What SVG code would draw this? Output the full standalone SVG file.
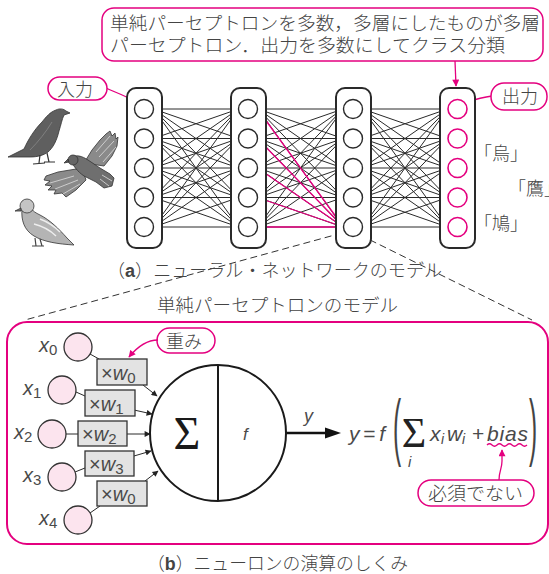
<svg xmlns="http://www.w3.org/2000/svg" xmlns:xlink="http://www.w3.org/1999/xlink" width="549" height="574" viewBox="0 0 549 574">
  <style>
    .jp { font-family: "Noto Sans CJK JP", "Noto Sans", sans-serif; fill: #444; font-size: 18px; font-weight: 300; }
    .lat { font-family: "Liberation Sans", Arial, sans-serif; fill: #4a4a4a; }
    .it { font-style: italic; }
    .box { fill: #fff; stroke: #2a2a2a; stroke-width: 2; }
    .node { fill: #fff; stroke: #2a2a2a; stroke-width: 1.4; }
    .out { fill: #fff; stroke: #e4007f; stroke-width: 1.6; }
    .pill { fill: #fff; stroke: #e4007f; stroke-width: 1.5; }
    .pinkln { fill: none; stroke: #e4007f; stroke-width: 1.3; }
    .wire { fill: none; stroke: #2a2a2a; stroke-width: 1; }
    .inp { fill: #fce4ee; stroke: #333; stroke-width: 1.3; }
    .wbox { fill: #e3e3e3; stroke: #333; stroke-width: 1.3; }
    .dash { fill: none; stroke: #333; stroke-width: 1; stroke-dasharray: 7 4; }
  </style>
  <defs>
    <marker id="ap" viewBox="0 0 10 10" refX="9" refY="5" markerWidth="9" markerHeight="7" orient="auto" markerUnits="userSpaceOnUse">
      <path d="M0,0 L10,5 L0,10 Z" fill="#e4007f"/>
    </marker>
    <marker id="ab" viewBox="0 0 10 10" refX="9" refY="5" markerWidth="8" markerHeight="6" orient="auto" markerUnits="userSpaceOnUse">
      <path d="M0,0 L10,5 L0,10 Z" fill="#222"/>
    </marker>
    <!-- full 5x5 fan between two adjacent layers, 85px wide -->
    <path id="fan" class="wire" d="
      M0 109L85 109M0 109L85 138.5M0 109L85 168M0 109L85 197.5M0 109L85 227
      M0 138.5L85 109M0 138.5L85 138.5M0 138.5L85 168M0 138.5L85 197.5M0 138.5L85 227
      M0 168L85 109M0 168L85 138.5M0 168L85 168M0 168L85 197.5M0 168L85 227
      M0 197.5L85 109M0 197.5L85 138.5M0 197.5L85 168M0 197.5L85 197.5M0 197.5L85 227
      M0 227L85 109M0 227L85 138.5M0 227L85 168M0 227L85 197.5M0 227L85 227"/>
  </defs>

  <rect width="549" height="574" fill="#fff"/>

  <!-- explanatory callout at the top -->
  <g id="note-top">
    <rect x="102" y="8" width="441" height="53" rx="12" class="pill"/>
    <text class="jp" x="110" y="30" textLength="430" lengthAdjust="spacingAndGlyphs">単純パーセプトロンを多数，多層にしたものが多層</text>
    <text class="jp" x="110" y="52" textLength="395" lengthAdjust="spacingAndGlyphs">パーセプトロン．出力を多数にしてクラス分類</text>
  </g>

  <!-- birds -->
  <g id="birds" stroke="#333" stroke-width="0.8" stroke-linejoin="round">
    <g id="crow">
      <path d="M8,157 L18,152 L24,149 C28,140 34,130 42,122 C46,117 50,112 56,110 C60,108 64,109 66,111 L70,113 L64,115 C62,119 61,125 59,131 C57,140 53,148 48,152 C44,155 38,157 30,157 L20,157 Z" fill="#5f5f5f"/>
      <path d="M30,150 C38,142 46,132 52,122" fill="none" stroke="#888"/>
      <path d="M40,155 L39,163 M47,153 L49,162 M33,164 L45,163 M44,162 L55,162" fill="none" stroke="#333" stroke-width="1.2"/>
    </g>
    <g id="hawk">
      <path d="M84,163 L92,150 L100,140 L106,134 L110,131 L112,136 L115,133 L116,139 L118,137 L117,146 L112,156 L104,166 Z" fill="#8a8a8a"/>
      <path d="M96,152 L110,136 M99,157 L114,141 M103,162 L116,147" fill="none" stroke="#ddd"/>
      <path d="M82,168 L70,170 L58,172 L46,176 L44,180 L50,181 L45,185 L52,186 L48,190 L56,190 L54,194 L62,193 L66,197 L76,190 L86,180 Z" fill="#8a8a8a"/>
      <path d="M50,183 L74,176 M55,189 L78,180 M63,194 L80,184" fill="none" stroke="#ddd"/>
      <path d="M70,158 C76,154 82,156 88,160 L100,168 L110,174 L114,178 L112,186 L104,188 L96,182 L84,176 C78,172 72,165 70,158 Z" fill="#6f6f6f"/>
      <path d="M102,175 L112,181 M100,179 L109,186" fill="none" stroke="#ddd"/>
      <circle cx="73" cy="160" r="5" fill="#666"/>
      <path d="M68,159 L64,163 L69,162 Z" fill="#555"/>
    </g>
    <g id="pigeon">
      <path d="M22,209 C21,220 24,230 34,236 C44,242 58,244 74,245 L67,238 C59,229 50,220 40,215 C34,212 31,210 31,206 Z" fill="#b4b4b4"/>
      <path d="M34,224 C42,226 50,230 56,236 M40,219 C48,222 54,226 60,232" fill="none" stroke="#eee" stroke-width="1.4"/>
      <circle cx="27" cy="206" r="7" fill="#c4c4c4"/>
      <path d="M21,208 L15,211 L21,211 Z" fill="#777"/>
      <path d="M35,238 L36,246 M40,239 L42,246 M32,246 L44,246" fill="none" stroke="#444" stroke-width="1.2"/>
    </g>
  </g>

  <!-- network connections -->
  <g id="connectors">
    <use xlink:href="#fan" transform="translate(153.5,0)"/>
    <use xlink:href="#fan" transform="translate(258,0)"/>
    <use xlink:href="#fan" transform="translate(362.5,0)"/>
    <path class="pinkln" stroke-width="1.1" d="M257.5 109L343.5 227M257.5 138.5L343.5 227M257.5 168L343.5 227M257.5 197.5L343.5 227M257.5 227L343.5 227"/>
    <path class="pinkln" d="M455,61 L456,86" marker-end="url(#ap)"/>
    <path class="pinkln" d="M106,88 C114,92 122,94 134,101" marker-end="url(#ap)"/>
    <path class="pinkln" d="M492,96 C484,97 476,99 467,102" marker-end="url(#ap)"/>
    <path class="dash" d="M342,233 L25,320"/>
    <path class="dash" d="M360,235 L532,320"/>
  </g>

  <g id="layer-in">
    <rect x="127" y="88" width="35" height="160" rx="9" class="box"/>
    <circle cx="144" cy="109" r="9.5" class="node"/>
    <circle cx="144" cy="138.5" r="9.5" class="node"/>
    <circle cx="144" cy="168" r="9.5" class="node"/>
    <circle cx="144" cy="197.5" r="9.5" class="node"/>
    <circle cx="144" cy="227" r="9.5" class="node"/>
  </g>
  <g id="layer-h1">
    <rect x="231" y="88" width="35" height="160" rx="9" class="box"/>
    <circle cx="248" cy="109" r="9.5" class="node"/>
    <circle cx="248" cy="138.5" r="9.5" class="node"/>
    <circle cx="248" cy="168" r="9.5" class="node"/>
    <circle cx="248" cy="197.5" r="9.5" class="node"/>
    <circle cx="248" cy="227" r="9.5" class="node"/>
  </g>
  <g id="layer-h2">
    <rect x="336" y="88" width="35" height="160" rx="9" class="box"/>
    <circle cx="353" cy="109" r="9.5" class="node"/>
    <circle cx="353" cy="138.5" r="9.5" class="node"/>
    <circle cx="353" cy="168" r="9.5" class="node"/>
    <circle cx="353" cy="197.5" r="9.5" class="node"/>
    <circle cx="353" cy="227" r="9.5" class="node"/>
  </g>
  <g id="layer-out">
    <rect x="440" y="88" width="35" height="160" rx="9" class="box"/>
    <circle cx="457.5" cy="109" r="9.5" class="out"/>
    <circle cx="457.5" cy="138.5" r="9.5" class="out"/>
    <circle cx="457.5" cy="168" r="9.5" class="out"/>
    <circle cx="457.5" cy="197.5" r="9.5" class="out"/>
    <circle cx="457.5" cy="227" r="9.5" class="out"/>
  </g>

  <g id="label-in">
    <rect x="48" y="77" width="59" height="23" rx="11.5" class="pill"/>
    <text class="jp" x="57" y="96" font-size="17.5">入力</text>
  </g>
  <g id="label-out">
    <rect x="491" y="83" width="56" height="27" rx="13" class="pill"/>
    <text class="jp" x="502" y="103" font-size="17.5">出力</text>
  </g>
  <g id="classes">
    <text class="jp" x="474" y="160" font-size="17">「烏」</text>
    <text class="jp" x="508" y="195" font-size="17">「鷹」</text>
    <text class="jp" x="474" y="230" font-size="17">「鳩」</text>
  </g>

  <text class="jp" x="107" y="277" textLength="335" lengthAdjust="spacingAndGlyphs">（<tspan font-weight="bold" font-family="Liberation Sans, sans-serif">a</tspan>）ニューラル・ネットワークのモデル</text>

  <!-- single neuron model -->
  <text class="jp" x="157" y="312" textLength="241" lengthAdjust="spacingAndGlyphs">単純パーセプトロンのモデル</text>
  <rect id="neuron-frame" x="7" y="322" width="541" height="222" rx="20" fill="none" stroke="#e4007f" stroke-width="2"/>

  <g id="neuron-wires">
    <path class="wire" stroke="#333" d="M90,354 L99,359 M76,392 L85,396 M66,434 L78,434 M75,472 L85,468 M90,513 L100,506"/>
    <path class="wire" stroke="#333" d="M143,385 L157,396" marker-end="url(#ab)"/>
    <path class="wire" stroke="#333" d="M134,410 L152,414" marker-end="url(#ab)"/>
    <path class="wire" stroke="#333" d="M127,434 L150,434" marker-end="url(#ab)"/>
    <path class="wire" stroke="#333" d="M134,456 L151,451" marker-end="url(#ab)"/>
    <path class="wire" stroke="#333" d="M145,481 L158,471" marker-end="url(#ab)"/>
    <path d="M286,433 L327,433" stroke="#111" stroke-width="2.6"/>
    <path d="M325,427.5 L341,433 L325,438.5 Z" fill="#111"/>
  </g>

  <g id="x0"><circle cx="78" cy="347" r="14" class="inp"/><text class="lat" x="39" y="352" font-size="20"><tspan class="it">x</tspan><tspan font-size="15" dy="3">0</tspan></text></g>
  <g id="x1"><circle cx="62" cy="390" r="14" class="inp"/><text class="lat" x="23" y="395" font-size="20"><tspan class="it">x</tspan><tspan font-size="15" dy="3">1</tspan></text></g>
  <g id="x2"><circle cx="52" cy="434" r="14" class="inp"/><text class="lat" x="14" y="439" font-size="20"><tspan class="it">x</tspan><tspan font-size="15" dy="3">2</tspan></text></g>
  <g id="x3"><circle cx="62" cy="477" r="14" class="inp"/><text class="lat" x="23" y="482" font-size="20"><tspan class="it">x</tspan><tspan font-size="15" dy="3">3</tspan></text></g>
  <g id="x4"><circle cx="78" cy="520" r="14" class="inp"/><text class="lat" x="39" y="525" font-size="20"><tspan class="it">x</tspan><tspan font-size="15" dy="3">4</tspan></text></g>

  <g id="w0"><rect x="97" y="359" width="50" height="26" class="wbox"/><text class="lat" x="101" y="380" font-size="20">×<tspan class="it">w</tspan><tspan font-size="15" dy="3">0</tspan></text></g>
  <g id="w1"><rect x="85" y="390" width="50" height="26" class="wbox"/><text class="lat" x="89" y="411" font-size="20">×<tspan class="it">w</tspan><tspan font-size="15" dy="3">1</tspan></text></g>
  <g id="w2"><rect x="78" y="421" width="49" height="25" class="wbox"/><text class="lat" x="82" y="441" font-size="20">×<tspan class="it">w</tspan><tspan font-size="15" dy="3">2</tspan></text></g>
  <g id="w3"><rect x="85" y="451" width="49" height="25" class="wbox"/><text class="lat" x="89" y="471" font-size="20">×<tspan class="it">w</tspan><tspan font-size="15" dy="3">3</tspan></text></g>
  <g id="w4"><rect x="97" y="481" width="50" height="25" class="wbox"/><text class="lat" x="101" y="501" font-size="20">×<tspan class="it">w</tspan><tspan font-size="15" dy="3">0</tspan></text></g>

  <g id="neuron">
    <circle cx="218" cy="433" r="68" fill="#fff" stroke="#1a1a1a" stroke-width="2"/>
    <path d="M218,365 L218,501" stroke="#1a1a1a" stroke-width="2"/>
    <text x="187" y="449" text-anchor="middle" font-family="Liberation Serif, serif" font-size="46" fill="#1a1a1a">Σ</text>
    <text class="lat it" x="243" y="440" font-size="17">f</text>
  </g>

  <text class="lat it" x="304" y="422" font-size="18">y</text>

  <g id="formula">
    <text class="lat it" x="349" y="441" font-size="21" textLength="36" lengthAdjust="spacing">y<tspan font-style="normal">=</tspan>f</text>
    <text transform="translate(393,452) scale(0.33,1)" font-family="Liberation Sans, sans-serif" font-size="74" fill="#444">(</text>
    <text x="414" y="447" text-anchor="middle" font-family="Liberation Serif, serif" font-size="42" fill="#222">Σ</text>
    <text class="lat it" x="408" y="467" font-size="15">i</text>
    <text class="lat it" x="430" y="441" font-size="21">x</text>
    <text class="lat it" x="441" y="444" font-size="14">i</text>
    <text class="lat it" x="447" y="441" font-size="21">w</text>
    <text class="lat it" x="462" y="444" font-size="14">i</text>
    <text class="lat" x="472" y="441" font-size="21">+</text>
    <text class="lat it" x="487" y="441" font-size="21" textLength="41" lengthAdjust="spacing">bias</text>
    <text transform="translate(529,452) scale(0.33,1)" font-family="Liberation Sans, sans-serif" font-size="74" fill="#444">)</text>
    <path class="pinkln" stroke-width="1" d="M487,445 q2.5,-2.5 5,0 t5,0 t5,0 t5,0 t5,0 t5,0 t5,0 t5,0"/>
    <path class="pinkln" d="M499,480 C499,471 502,469 502,461 L502,450" marker-end="url(#ap)"/>
  </g>

  <g id="note-weight">
    <rect x="157" y="328" width="58" height="25" rx="12.5" class="pill"/>
    <text class="jp" x="166" y="348" font-size="17.5">重み</text>
    <path class="pinkln" d="M158,340 C148,340 138,346 129,357" marker-end="url(#ap)"/>
  </g>
  <g id="note-bias">
    <rect x="418" y="480" width="116" height="26" rx="13" class="pill"/>
    <text class="jp" x="428" y="500" textLength="95" lengthAdjust="spacingAndGlyphs">必須でない</text>
  </g>

  <text class="jp" x="147" y="570" textLength="261" lengthAdjust="spacingAndGlyphs">（<tspan font-weight="bold" font-family="Liberation Sans, sans-serif">b</tspan>）ニューロンの演算のしくみ</text>
</svg>
